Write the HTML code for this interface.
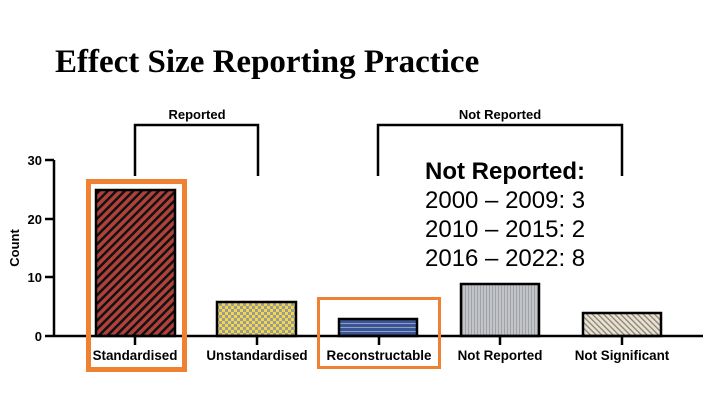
<!DOCTYPE html>
<html><head><style>
body{margin:0;background:#fff;width:720px;height:405px;overflow:hidden}
</style></head><body>
<svg width="720" height="405" xmlns="http://www.w3.org/2000/svg">
<defs>
<pattern id="p1" width="6" height="6" patternUnits="userSpaceOnUse" patternTransform="rotate(45)">
<rect width="6" height="6" fill="#b0413a"/><rect width="2.5" height="6" fill="#111"/></pattern>
<pattern id="p2" width="6" height="6" patternUnits="userSpaceOnUse">
<rect width="6" height="6" fill="#f0d84a"/><rect width="3" height="3" fill="#9a9a9a"/><rect x="3" y="3" width="3" height="3" fill="#9a9a9a"/></pattern>
<pattern id="p3" width="4" height="4" patternUnits="userSpaceOnUse">
<rect width="4" height="4" fill="#3a5494"/><rect y="3" width="4" height="1" fill="#8fa0c8"/></pattern>
<pattern id="p4" width="3" height="3" patternUnits="userSpaceOnUse">
<rect width="3" height="3" fill="#c2c4c7"/><rect width="1" height="3" fill="#9fa2a6"/></pattern>
<pattern id="p5" width="4" height="4" patternUnits="userSpaceOnUse" patternTransform="rotate(-45)">
<rect width="4" height="4" fill="#e8e2d4"/><rect width="1.3" height="4" fill="#8a8170"/></pattern>
</defs>
<text x="55" y="72" font-family="Liberation Serif,serif" font-weight="bold" font-size="33">Effect Size Reporting Practice</text>
<g font-family="Liberation Sans,sans-serif" font-weight="bold" font-size="13" text-anchor="middle">
<text x="197" y="119">Reported</text>
<text x="500" y="119">Not Reported</text>
</g>
<g stroke="#000" stroke-width="2.5" fill="none">
<path d="M135 176V125H258V176"/>
<path d="M378 176V125H622V176"/>
</g>
<g stroke="#000" stroke-width="2.5">
<rect x="96" y="190" width="79" height="146" fill="url(#p1)"/>
<rect x="217" y="302" width="79" height="34" fill="url(#p2)"/>
<rect x="339" y="319" width="78" height="17" fill="url(#p3)"/>
<rect x="461" y="284" width="78" height="52" fill="url(#p4)"/>
<rect x="583" y="313" width="78" height="23" fill="url(#p5)"/>
<line x1="54" y1="160" x2="54" y2="337"/>
<line x1="45" y1="336" x2="703" y2="336"/>
<line x1="45" y1="160" x2="54" y2="160"/><line x1="45" y1="219" x2="54" y2="219"/><line x1="45" y1="277" x2="54" y2="277"/>
<line x1="135" y1="336" x2="135" y2="345"/><line x1="257" y1="336" x2="257" y2="345"/><line x1="379" y1="336" x2="379" y2="345"/><line x1="500" y1="336" x2="500" y2="345"/><line x1="622" y1="336" x2="622" y2="345"/>
</g>
<g font-family="Liberation Sans,sans-serif" font-weight="bold" font-size="13" text-anchor="end">
<text x="42" y="165">30</text><text x="42" y="224">20</text><text x="42" y="282">10</text><text x="42" y="341">0</text>
</g>
<text transform="translate(19,248) rotate(-90)" font-family="Liberation Sans,sans-serif" font-weight="bold" font-size="13" text-anchor="middle">Count</text>
<g font-family="Liberation Sans,sans-serif" font-weight="bold" font-size="13.4" text-anchor="middle">
<text x="135" y="360">Standardised</text><text x="257" y="360">Unstandardised</text><text x="379" y="360">Reconstructable</text><text x="500" y="360">Not Reported</text><text x="622" y="360">Not Significant</text>
</g>
<rect x="88.5" y="181.5" width="96" height="188" fill="none" stroke="#ee8232" stroke-width="5"/>
<rect x="318.5" y="298.5" width="121" height="69" fill="none" stroke="#ee8232" stroke-width="3"/>
<g font-family="Liberation Sans,sans-serif" font-size="24">
<text x="425" y="179" font-weight="bold">Not Reported:</text>
<text x="425" y="208">2000 – 2009: 3</text>
<text x="425" y="237">2010 – 2015: 2</text>
<text x="425" y="266">2016 – 2022: 8</text>
</g>
</svg>
</body></html>
